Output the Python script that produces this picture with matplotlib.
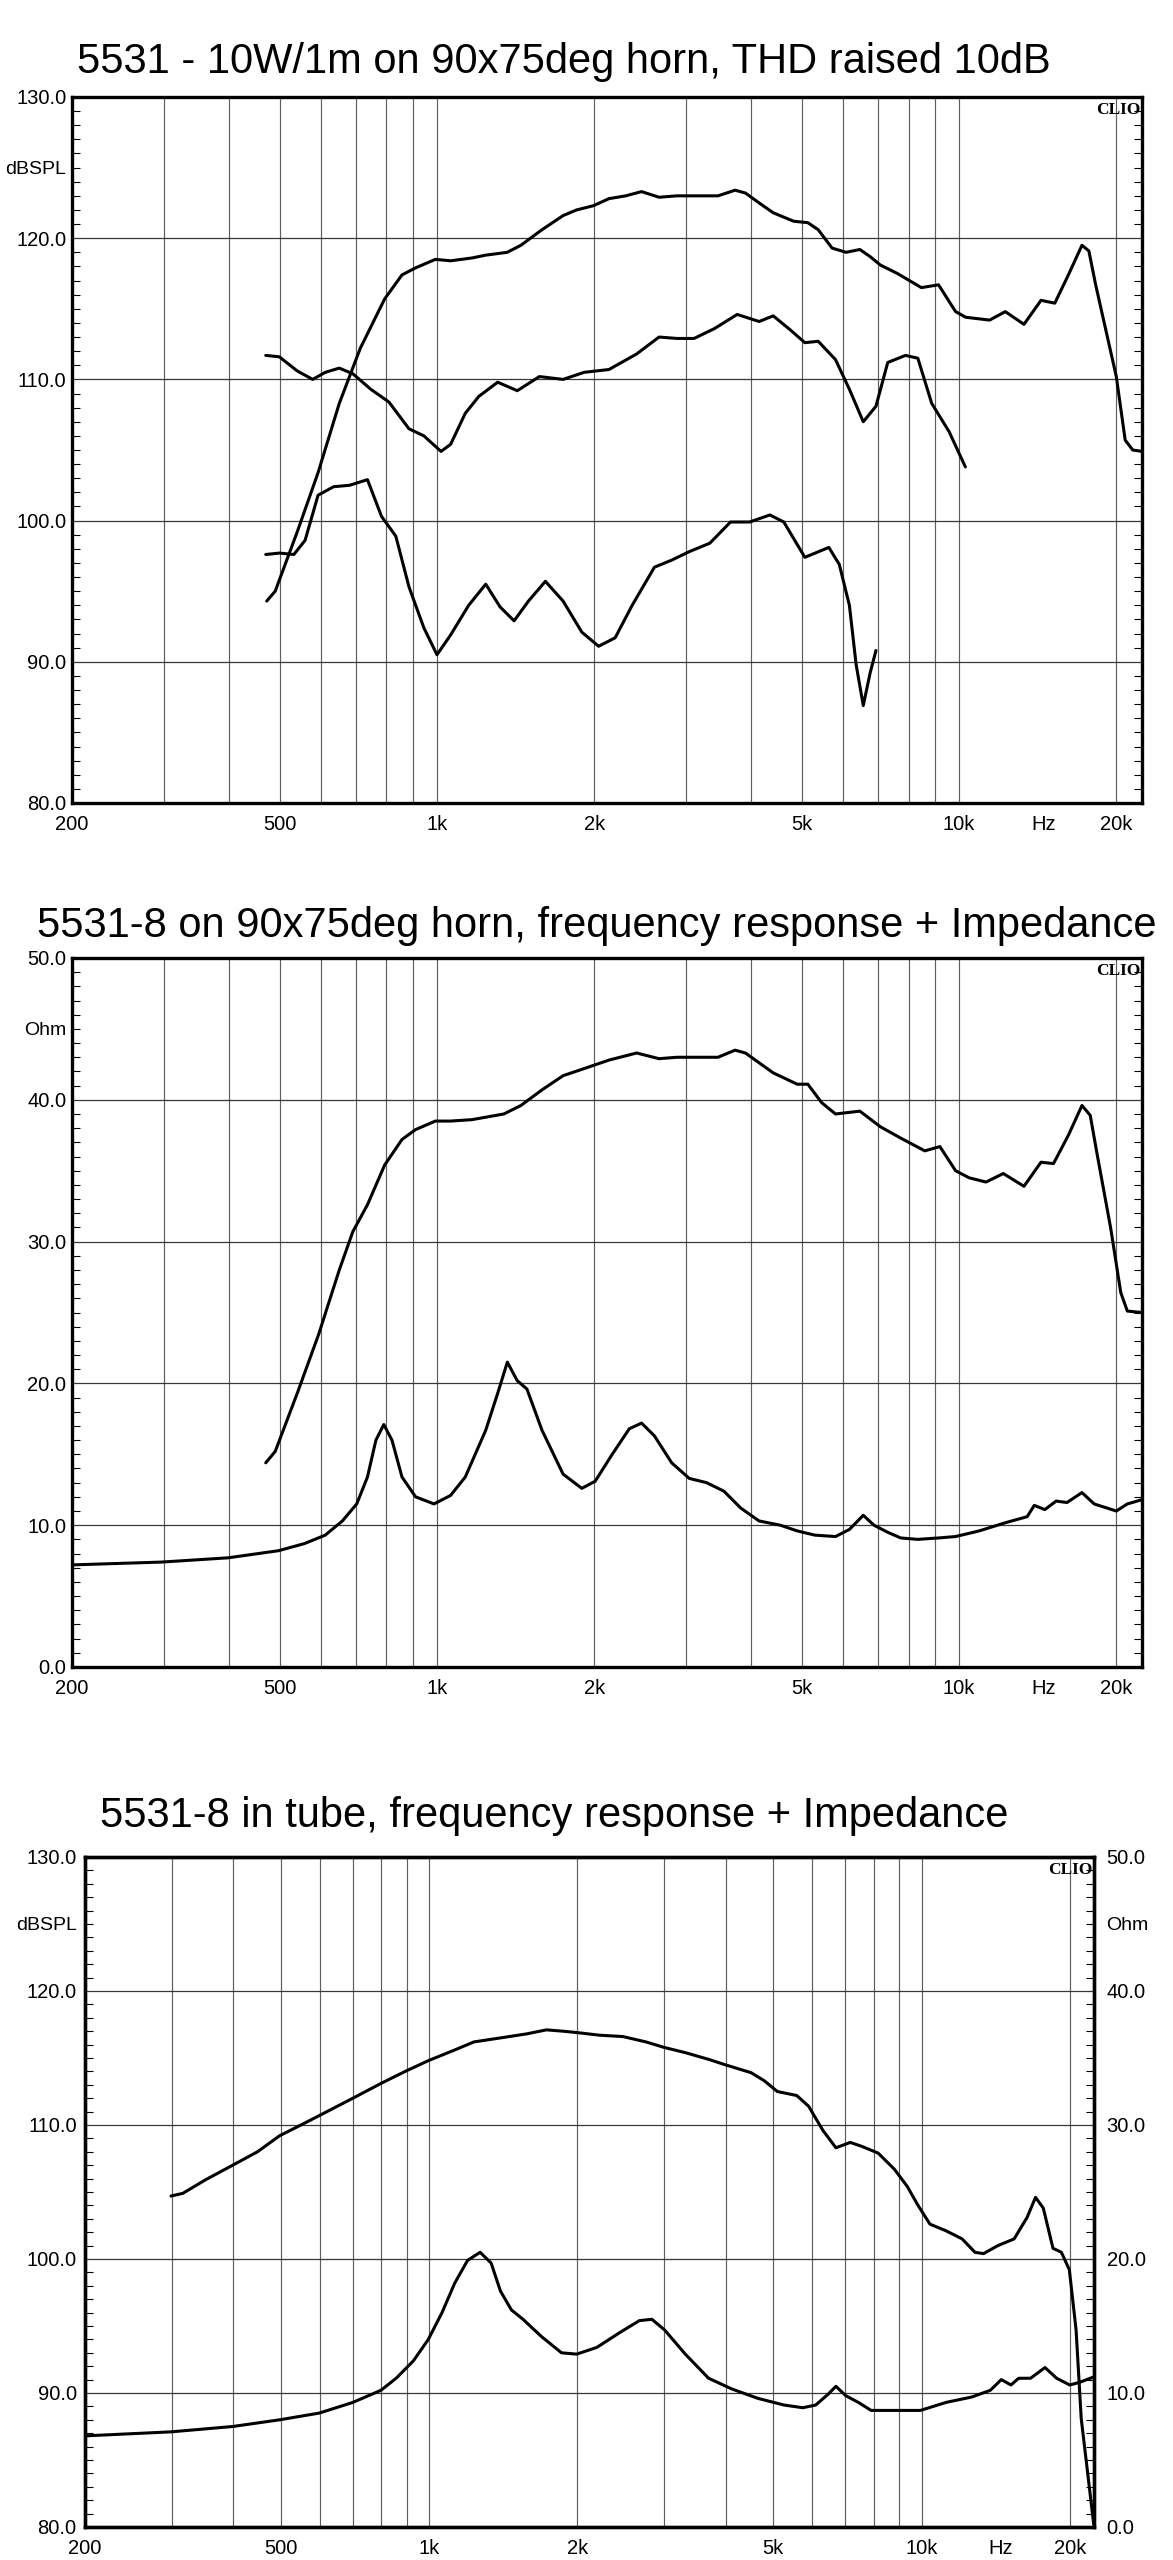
import numpy as np
import matplotlib
matplotlib.use('Agg')
import matplotlib.pyplot as plt
from matplotlib.ticker import MultipleLocator, FuncFormatter

plt.rcParams['font.family'] = ['Liberation Sans', 'DejaVu Sans']

# ---- data (Hz, value) ----
titles = ['5531 - 10W/1m on 90x75deg horn, THD raised 10dB',
          '5531-8 on 90x75deg horn, frequency response + Impedance',
          '5531-8 in tube, frequency response + Impedance']

# panel 1: fundamental, 2nd and 3rd harmonic (dBSPL)
p1_fund = [(472, 94.3), (490, 95.0), (540, 99.2), (592, 103.4), (650, 108.3), (713, 112.2),
           (794, 115.7), (857, 117.4), (910, 117.9), (993, 118.5), (1062, 118.4), (1167, 118.6),
           (1240, 118.8), (1363, 119.0), (1448, 119.5), (1589, 120.6), (1744, 121.6), (1850, 122.0),
           (1993, 122.3), (2135, 122.8), (2299, 123.0), (2465, 123.3), (2663, 122.9), (2881, 123.0),
           (3155, 123.0), (3453, 123.0), (3723, 123.4), (3897, 123.2), (4139, 122.5), (4405, 121.8),
           (4823, 121.2), (5132, 121.1), (5372, 120.6), (5711, 119.3), (6072, 119.0), (6455, 119.2),
           (6753, 118.7), (7065, 118.1), (7617, 117.5), (8467, 116.5), (9132, 116.7), (9845, 114.8),
           (10300, 114.4), (11440, 114.2), (12260, 114.8), (13310, 113.9), (14350, 115.6),
           (15250, 115.4), (16190, 117.4), (17190, 119.5), (17720, 119.1), (18260, 116.7),
           (20000, 110.2), (20800, 105.7), (21500, 105.0), (22400, 104.9)]

p1_h2 = [(470, 111.7), (499, 111.6), (540, 110.6), (578, 110.0), (611, 110.5), (650, 110.8),
         (690, 110.4), (747, 109.3), (809, 108.4), (884, 106.5), (944, 106.0), (1018, 104.9),
         (1062, 105.4), (1133, 107.6), (1203, 108.8), (1307, 109.8), (1425, 109.2), (1571, 110.2),
         (1744, 110.0), (1913, 110.5), (2135, 110.7), (2412, 111.8), (2663, 113.0), (2881, 112.9),
         (3107, 112.9), (3400, 113.6), (3758, 114.6), (4139, 114.1), (4405, 114.5), (4752, 113.5),
         (5065, 112.6), (5372, 112.7), (5798, 111.4), (6164, 109.3), (6553, 107.0), (6930, 108.1),
         (7300, 111.2), (7897, 111.7), (8336, 111.5), (8862, 108.3), (9567, 106.3), (10280, 103.8)]

p1_h3 = [(470, 97.6), (499, 97.7), (532, 97.6), (559, 98.6), (592, 101.8), (634, 102.4),
         (680, 102.5), (736, 102.9), (783, 100.3), (834, 98.9), (884, 95.3), (944, 92.4),
         (1000, 90.5), (1062, 91.9), (1150, 94.0), (1240, 95.5), (1320, 93.9), (1405, 92.9),
         (1497, 94.3), (1613, 95.7), (1744, 94.3), (1894, 92.1), (2040, 91.1), (2194, 91.7),
         (2365, 94.0), (2609, 96.7), (2815, 97.2), (3042, 97.8), (3331, 98.4), (3649, 99.9),
         (3969, 99.9), (4342, 100.4), (4616, 99.9), (5065, 97.4), (5630, 98.1), (5895, 96.9),
         (6164, 94.0), (6350, 89.8), (6553, 86.9), (6753, 89.2), (6930, 90.8)]

# panel 2: response (on 0-50 scale) and impedance (Ohm)
p2_resp = [(470, 14.4), (490, 15.2), (540, 19.3), (594, 23.5), (650, 28.0), (690, 30.7),
           (736, 32.6), (794, 35.4), (857, 37.2), (910, 37.9), (993, 38.5), (1062, 38.5),
           (1167, 38.6), (1343, 39.0), (1448, 39.6), (1589, 40.7), (1744, 41.7), (1913, 42.2),
           (2135, 42.8), (2412, 43.3), (2663, 42.9), (2881, 43.0), (3453, 43.0), (3723, 43.5),
           (3897, 43.3), (4405, 41.9), (4895, 41.1), (5132, 41.1), (5454, 39.8), (5798, 39.0),
           (6455, 39.2), (7065, 38.1), (7730, 37.3), (8595, 36.4), (9188, 36.7), (9845, 35.0),
           (10450, 34.5), (11260, 34.2), (12150, 34.8), (13310, 33.9), (14350, 35.6),
           (15160, 35.5), (16190, 37.5), (17190, 39.6), (17830, 38.9), (18370, 36.2),
           (19500, 31.0), (20400, 26.4), (21000, 25.1), (22400, 25.0)]

p2_imp = [(200, 7.2), (297, 7.4), (398, 7.7), (497, 8.2), (557, 8.7), (611, 9.3), (659, 10.3),
          (702, 11.5), (736, 13.4), (764, 16.0), (791, 17.1), (820, 16.0), (857, 13.4),
          (910, 12.0), (987, 11.5), (1062, 12.1), (1133, 13.4), (1240, 16.7), (1307, 19.3),
          (1364, 21.5), (1424, 20.2), (1487, 19.6), (1589, 16.7), (1744, 13.6), (1894, 12.6),
          (2009, 13.1), (2166, 15.0), (2335, 16.8), (2465, 17.2), (2609, 16.3), (2815, 14.4),
          (3042, 13.3), (3283, 13.0), (3544, 12.4), (3820, 11.2), (4139, 10.3), (4544, 10.0),
          (4895, 9.6), (5291, 9.3), (5798, 9.2), (6164, 9.7), (6553, 10.7), (6870, 10.0),
          (7300, 9.5), (7730, 9.1), (8336, 9.0), (9132, 9.1), (9845, 9.2), (10930, 9.6),
          (12330, 10.2), (13500, 10.6), (13930, 11.4), (14590, 11.1), (15340, 11.7),
          (16090, 11.6), (17190, 12.3), (18140, 11.5), (20000, 11.0), (21000, 11.5), (22400, 11.8)]

# panel 3: response (dBSPL, left) and impedance (Ohm, right)
p3_spl = [(299, 104.7), (316, 104.9), (351, 105.9), (399, 107.0), (448, 108.0), (497, 109.2),
          (549, 110.0), (598, 110.7), (700, 112.0), (798, 113.1), (894, 114.0), (996, 114.8),
          (1127, 115.6), (1233, 116.2), (1396, 116.5), (1578, 116.8), (1730, 117.1), (1871, 117.0),
          (1993, 116.9), (2221, 116.7), (2474, 116.6), (2756, 116.2), (2993, 115.8), (3313, 115.4),
          (3694, 114.9), (3989, 114.5), (4509, 113.9), (4794, 113.3), (5094, 112.5), (5579, 112.2),
          (5897, 111.4), (6305, 109.6), (6700, 108.3), (7167, 108.7), (7570, 108.4), (8165, 107.9),
          (8807, 106.7), (9360, 105.4), (9800, 104.1), (10400, 102.6), (11220, 102.1),
          (12090, 101.5), (12840, 100.5), (13360, 100.4), (14290, 101.0), (15420, 101.5),
          (16380, 103.1), (17040, 104.6), (17670, 103.8), (18490, 100.8), (19230, 100.5),
          (19960, 99.2), (20600, 94.7), (21100, 88.1), (22370, 80.2)]

p3_imp = [(200, 6.8), (299, 7.1), (399, 7.5), (497, 8.0), (598, 8.5), (700, 9.3), (798, 10.2),
          (857, 11.1), (929, 12.4), (996, 14.0), (1062, 16.0), (1127, 18.2), (1197, 19.9),
          (1269, 20.5), (1336, 19.7), (1396, 17.6), (1469, 16.2), (1551, 15.5), (1692, 14.2),
          (1857, 13.0), (1993, 12.9), (2190, 13.4), (2436, 14.5), (2672, 15.4), (2834, 15.5),
          (3008, 14.7), (3313, 12.9), (3694, 11.1), (4119, 10.3), (4652, 9.6), (5258, 9.1),
          (5739, 8.9), (6095, 9.1), (6457, 9.9), (6700, 10.5), (7015, 9.8), (7440, 9.3),
          (7901, 8.7), (8807, 8.7), (9946, 8.7), (11220, 9.3), (12650, 9.7), (13790, 10.2),
          (14520, 11.0), (15190, 10.6), (15750, 11.1), (16650, 11.1), (17810, 11.9),
          (18810, 11.1), (20000, 10.6), (20960, 10.8), (22370, 11.2)]

grid_f = [200, 300, 400, 500, 600, 700, 800, 900, 1000, 2000, 3000, 4000, 5000,
          6000, 7000, 8000, 9000, 10000, 20000]
f_labels = {200: '200', 500: '500', 1000: '1k', 2000: '2k', 5000: '5k', 10000: '10k', 20000: '20k'}

W, H = 1173, 2560
fig = plt.figure(figsize=(W / 100, H / 100), dpi=100)


def box(l, t, r, b):
    return [l / W, 1 - b / H, (r - l) / W, (b - t) / H]


def unit_fmt(val, name):
    return FuncFormatter(lambda v, p: name if abs(v - val) < 0.01 else '')


def setup(ax, lo, hi, unit, side='left', pad=4, grid=True):
    ax.set_xscale('log')
    ax.set_xlim(200, 22400)
    ax.set_ylim(lo, hi)
    ax.set_xticks(grid_f, [f_labels.get(f, '') for f in grid_f])
    ax.set_xticks([14500], ['Hz'], minor=True)
    ax.tick_params(axis='x', which='both', length=0, pad=9, labelsize=14.5)
    majors = np.arange(lo, hi + 1, 10)
    ax.set_yticks(majors, [f'{v:.1f}' for v in majors])
    ax.yaxis.set_minor_locator(MultipleLocator(1))
    ax.yaxis.set_minor_formatter(unit_fmt(hi - 5, unit))
    ax.tick_params(axis='y', which='major', length=0, pad=pad, labelsize=14.5)
    ax.tick_params(axis='y', which='minor', direction='in', length=6, width=0.8,
                   pad=pad, labelsize=14)
    if side == 'left':
        ax.tick_params(axis='y', which='both', left=True, right=False,
                       labelleft=True, labelright=False)
    else:
        ax.tick_params(axis='y', which='both', left=False, right=True,
                       labelleft=False, labelright=True)
    if grid:
        ax.grid(True, which='major', axis='y', color='#383838', lw=0.9)
        ax.grid(True, which='major', axis='x', color='#5e5e5e', lw=0.85)
    for s in ax.spines.values():
        s.set_linewidth(2.4)


def clio(ax):
    ax.text(0.999, 0.993, 'CLIO', transform=ax.transAxes, ha='right', va='top',
            family='Liberation Serif', weight='bold', fontsize=12.5)


def curve(ax, pts):
    f, v = zip(*pts)
    ax.plot(f, v, color='black', lw=2.2, solid_joinstyle='round', solid_capstyle='round')


# panel 1
ax1 = fig.add_axes(box(72, 97, 1142, 803))
setup(ax1, 80, 130, 'dBSPL')
ax1.tick_params(axis='y', which='minor', right=True)
for c in (p1_fund, p1_h2, p1_h3):
    curve(ax1, c)
clio(ax1)
fig.text(77 / W, 1 - 73 / H, titles[0], fontsize=30, va='baseline')

# panel 2
ax2 = fig.add_axes(box(72, 958, 1142, 1667))
setup(ax2, 0, 50, 'Ohm')
ax2.tick_params(axis='y', which='minor', right=True)
curve(ax2, p2_resp)
curve(ax2, p2_imp)
clio(ax2)
fig.text(37 / W, 1 - 937 / H, titles[1], fontsize=30, va='baseline')

# panel 3
ax3 = fig.add_axes(box(85, 1857, 1094, 2527))
setup(ax3, 80, 130, 'dBSPL', pad=6)
ax3b = ax3.twinx()
setup(ax3b, 0, 50, 'Ohm', side='right', pad=9, grid=False)
curve(ax3, p3_spl)
curve(ax3b, p3_imp)
clio(ax3)
fig.text(100 / W, 1 - 1827 / H, titles[2], fontsize=30, va='baseline')

fig.savefig('out.png', dpi=100, facecolor='white')
